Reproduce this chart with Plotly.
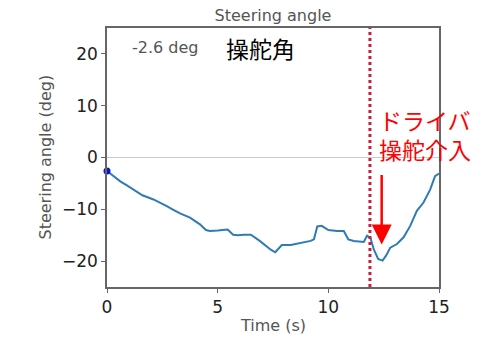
import plotly.graph_objects as go

# Steering angle trace over time
time_s = [0, 0.3, 0.6, 0.9, 1.2, 1.6, 2.1, 2.4, 2.7, 3.0, 3.3, 3.75, 4.2, 4.47, 4.65,
          5.0, 5.3, 5.45, 5.7, 5.9, 6.2, 6.5, 6.9, 7.2, 7.4, 7.6, 7.75, 7.9, 8.3, 8.7,
          9.2, 9.35, 9.5, 9.7, 10.0, 10.4, 10.7, 10.9, 11.15, 11.6, 11.75, 11.9, 12.05,
          12.25, 12.45, 12.6, 12.8, 13.1, 13.4, 13.7, 14.0, 14.3, 14.6, 14.82, 15.0]
angle_deg = [-2.6, -3.6, -4.6, -5.4, -6.2, -7.3, -8.1, -8.7, -9.4, -10.1, -10.8, -11.6,
             -12.9, -14.0, -14.2, -14.1, -14.0, -13.9, -14.9, -15.0, -14.9, -14.9, -16.1,
             -17.2, -17.8, -18.3, -17.6, -16.9, -16.9, -16.5, -16.1, -15.8, -13.3, -13.2,
             -14.0, -14.2, -14.2, -15.8, -16.1, -16.3, -15.1, -15.5, -17.7, -19.6, -19.9,
             -19.0, -17.4, -16.7, -15.4, -13.2, -10.3, -8.7, -6.2, -3.6, -3.1]

current_angle = -2.6
intervention_time = 11.88
x_ticks = [0, 5, 10, 15]
y_ticks = [-20, -10, 0, 10, 20]
intervention_lines = ["ドライバ", "操舵介入"]

GRAY = "#555555"
RED = "#ff0000"
FONT = "DejaVu Sans"
JP_FONT = "Noto Sans CJK JP"

fig = go.Figure()
fig.add_trace(go.Scatter(x=time_s, y=angle_deg, mode="lines",
                         line=dict(color="#2f7bb4", width=2), showlegend=False))
fig.add_trace(go.Scatter(x=[time_s[0]], y=[current_angle], mode="markers",
                         marker=dict(color="#0a14c8", size=7), showlegend=False,
                         cliponaxis=False))

# zero reference line
fig.add_hline(y=0, line=dict(color="#cccccc", width=1))
# driver intervention marker
fig.add_vline(x=intervention_time, line=dict(color="#c81e3c", width=3, dash="dot"))

fig.add_annotation(x=1.04, y=21.2, xref="x", yref="y", xanchor="left", yanchor="middle",
                   text=f"{current_angle} deg", showarrow=False,
                   font=dict(family=FONT, size=16, color=GRAY))
fig.add_annotation(x=5.3, y=21.2, xref="x", yref="y", xanchor="left", yanchor="middle",
                   text="操舵角", showarrow=False,
                   font=dict(family=JP_FONT, size=23, color="black"))
for label, level in zip(intervention_lines, [7.3, 1.7]):
    fig.add_annotation(x=12.2, y=level, xref="x", yref="y", xanchor="left",
                       yanchor="middle", text=label, showarrow=False,
                       font=dict(family=JP_FONT, size=23, color=RED))
fig.add_annotation(x=12.41, y=-16.8, ax=12.41, ay=-3.1, xref="x", yref="y",
                   axref="x", ayref="y", text="", showarrow=True,
                   arrowhead=2, arrowsize=1.6, arrowwidth=2.5, arrowcolor=RED)

# axis titles placed relative to the plot area
fig.add_annotation(x=0.5, y=0, xref="paper", yref="paper", yshift=-38,
                   text="Time (s)", showarrow=False, xanchor="center", yanchor="middle",
                   font=dict(family=FONT, size=16, color=GRAY))
fig.add_annotation(x=0, y=0.5, xref="paper", yref="paper", xshift=-62,
                   text="Steering angle (deg)", showarrow=False, textangle=-90,
                   xanchor="center", yanchor="middle",
                   font=dict(family=FONT, size=16, color=GRAY))

fig.update_layout(
    width=502, height=339,
    margin=dict(l=107, r=63, t=28, b=52),
    paper_bgcolor="white", plot_bgcolor="white",
    title=dict(text="Steering angle", x=0.5, xref="paper", xanchor="center",
               y=1 - 15 / 339, yanchor="middle",
               font=dict(family=FONT, size=16, color=GRAY)),
    xaxis=dict(range=[0, 15], tickvals=x_ticks, showgrid=False, zeroline=False,
               showline=True, linecolor="#666666", linewidth=1.5, mirror=True,
               ticks="outside", ticklen=4, tickcolor="#666666", automargin=False,
               tickfont=dict(family=FONT, size=17, color="#222222")),
    yaxis=dict(range=[-25, 25], tickvals=y_ticks, showgrid=False, zeroline=False,
               showline=True, linecolor="#666666", linewidth=1.5, mirror=True,
               ticks="outside", ticklen=4, tickcolor="#666666", automargin=False,
               tickfont=dict(family=FONT, size=17, color="#222222")),
)

fig.write_html("out.html")
